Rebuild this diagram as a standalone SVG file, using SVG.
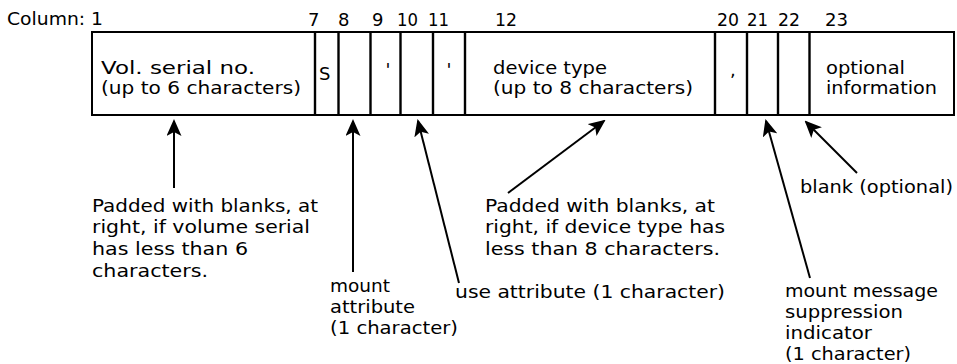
<svg xmlns="http://www.w3.org/2000/svg" width="957" height="364" viewBox="0 0 957 364">
<style>
text{font-family:"DejaVu Sans","Liberation Sans",sans-serif;font-size:18px;fill:#000}
.box{fill:#fff;stroke:#000;stroke-width:2}
.div{stroke:#000;stroke-width:2.4}
.arr{stroke:#000;stroke-width:2;fill:none;marker-end:url(#ah)}
</style>
<defs>
<marker id="ah" markerUnits="userSpaceOnUse" markerWidth="17" markerHeight="15" viewBox="0 0 17 15" refX="15" refY="7.5" orient="auto">
<path d="M0,0 L17,7.5 L0,15 L4,7.5 Z" fill="#000"/>
</marker>
</defs>
<rect width="957" height="364" fill="#fff"/>
<g id="columns">
<text x="7" y="25" textLength="96" lengthAdjust="spacingAndGlyphs">Column: 1</text>
<text x="308" y="26">7</text>
<text x="338" y="26">8</text>
<text x="372" y="26">9</text>
<text x="397" y="26" textLength="21" lengthAdjust="spacingAndGlyphs">10</text>
<text x="428" y="26" textLength="21" lengthAdjust="spacingAndGlyphs">11</text>
<text x="495" y="26" textLength="22" lengthAdjust="spacingAndGlyphs">12</text>
<text x="717" y="26" textLength="22" lengthAdjust="spacingAndGlyphs">20</text>
<text x="747" y="26" textLength="21" lengthAdjust="spacingAndGlyphs">21</text>
<text x="778" y="26" textLength="22" lengthAdjust="spacingAndGlyphs">22</text>
<text x="825" y="26" textLength="23" lengthAdjust="spacingAndGlyphs">23</text>
</g>
<g id="record">
<rect class="box" x="92" y="32" width="862" height="83"/>
<line class="div" x1="315" y1="32" x2="315" y2="115"/>
<line class="div" x1="338.5" y1="32" x2="338.5" y2="115"/>
<line class="div" x1="370.5" y1="32" x2="370.5" y2="115"/>
<line class="div" x1="400.5" y1="32" x2="400.5" y2="115"/>
<line class="div" x1="433" y1="32" x2="433" y2="115"/>
<line class="div" x1="465" y1="32" x2="465" y2="115"/>
<line class="div" x1="715" y1="32" x2="715" y2="115"/>
<line class="div" x1="747" y1="32" x2="747" y2="115"/>
<line class="div" x1="778" y1="32" x2="778" y2="115"/>
<line class="div" x1="809.5" y1="32" x2="809.5" y2="115"/>
</g>
<g id="field-volser">
<text x="101" y="74" textLength="154" lengthAdjust="spacingAndGlyphs">Vol. serial no.</text>
<text x="101" y="94" textLength="200" lengthAdjust="spacingAndGlyphs">(up to 6 characters)</text>
</g>
<g id="field-s"><text x="319" y="80">S</text></g>
<g id="field-9"><text x="385.5" y="76">'</text></g>
<g id="field-11"><text x="446.5" y="76">'</text></g>
<g id="field-devtype">
<text x="493" y="74" textLength="114" lengthAdjust="spacingAndGlyphs">device type</text>
<text x="493" y="94" textLength="200" lengthAdjust="spacingAndGlyphs">(up to 8 characters)</text>
</g>
<g id="field-20"><text x="730" y="76">,</text></g>
<g id="field-optional">
<text x="826" y="74" textLength="79" lengthAdjust="spacingAndGlyphs">optional</text>
<text x="826" y="94" textLength="111" lengthAdjust="spacingAndGlyphs">information</text>
</g>
<g id="connectors">
<line class="arr" x1="174" y1="188" x2="174" y2="121"/>
<line class="arr" x1="353" y1="272" x2="353" y2="121"/>
<line class="arr" x1="459" y1="283" x2="418" y2="121"/>
<line class="arr" x1="508" y1="193" x2="604" y2="121"/>
<line class="arr" x1="810" y1="278" x2="766" y2="121"/>
<line class="arr" x1="857" y1="173" x2="806" y2="122"/>
</g>
<g id="note-volser">
<text x="92" y="212" textLength="226" lengthAdjust="spacingAndGlyphs">Padded with blanks, at</text>
<text x="92" y="233" textLength="218" lengthAdjust="spacingAndGlyphs">right, if volume serial</text>
<text x="92" y="255" textLength="156" lengthAdjust="spacingAndGlyphs">has less than 6</text>
<text x="92" y="277" textLength="116" lengthAdjust="spacingAndGlyphs">characters.</text>
</g>
<g id="note-mount">
<text x="330" y="292" textLength="60" lengthAdjust="spacingAndGlyphs">mount</text>
<text x="330" y="313" textLength="85" lengthAdjust="spacingAndGlyphs">attribute</text>
<text x="330" y="334" textLength="128" lengthAdjust="spacingAndGlyphs">(1 character)</text>
</g>
<g id="note-use">
<text x="455" y="298" textLength="270" lengthAdjust="spacingAndGlyphs">use attribute (1 character)</text>
</g>
<g id="note-devtype">
<text x="485" y="212" textLength="230" lengthAdjust="spacingAndGlyphs">Padded with blanks, at</text>
<text x="485" y="233" textLength="240" lengthAdjust="spacingAndGlyphs">right, if device type has</text>
<text x="485" y="255" textLength="235" lengthAdjust="spacingAndGlyphs">less than 8 characters.</text>
</g>
<g id="note-blank">
<text x="800" y="193" textLength="153" lengthAdjust="spacingAndGlyphs">blank (optional)</text>
</g>
<g id="note-suppress">
<text x="785" y="297" textLength="153" lengthAdjust="spacingAndGlyphs">mount message</text>
<text x="785" y="318" textLength="118" lengthAdjust="spacingAndGlyphs">suppression</text>
<text x="785" y="339" textLength="87" lengthAdjust="spacingAndGlyphs">indicator</text>
<text x="785" y="360" textLength="126" lengthAdjust="spacingAndGlyphs">(1 character)</text>
</g>
</svg>
